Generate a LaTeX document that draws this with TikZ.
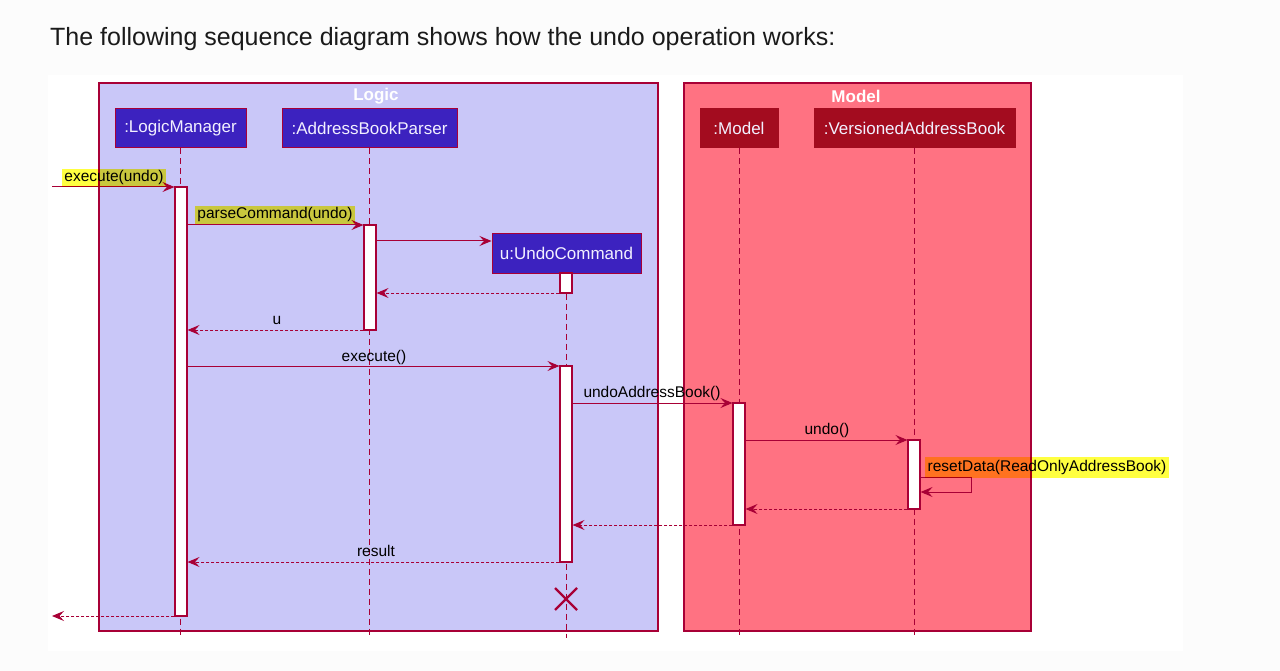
\documentclass[tikz,border=0pt]{standalone}
\usepackage{fontspec}
\setmainfont{Liberation Sans}
\usetikzlibrary{arrows.meta}
\definecolor{crim}{HTML}{A80036}
\definecolor{logicfill}{HTML}{C9C7F8}
\definecolor{modelfill}{HTML}{FF7282}
\definecolor{logicpart}{HTML}{3C22BF}
\definecolor{modelpart}{HTML}{A30C1F}
\definecolor{hlyellow}{HTML}{FFFF40}
\definecolor{pagebg}{HTML}{FCFCFC}
\definecolor{headtext}{HTML}{1A1A1A}
\definecolor{parttext}{HTML}{F2F0FF}
\begin{document}
\begin{tikzpicture}[x=1pt,y=-1pt,
  grp/.style={draw=crim, line width=1.2pt},
  grptitle/.style={font=\bfseries\fontsize{17}{20}\selectfont, text=white, inner sep=0pt},
  part/.style={draw=crim, line width=1pt, minimum height=39pt, inner sep=0pt,
    text=parttext, font=\fontsize{17}{20}\selectfont},
  lpart/.style={part, fill=logicpart},
  mpart/.style={part, fill=modelpart, draw=modelpart},
  life/.style={draw=crim, line width=1pt, dash pattern=on 6pt off 4pt},
  actbar/.style={draw=crim, fill=white, line width=1.1pt, minimum width=12pt, inner sep=0pt},
  msg/.style={draw=crim, line width=1pt, -{Stealth[length=12pt,width=10pt,inset=4.5pt]}},
  ret/.style={msg, dash pattern=on 3pt off 2pt},
  lbl/.style={font=\fontsize{15.5}{18}\selectfont, anchor=base, inner sep=0pt, text=black},
  hl/.style={lbl, fill=hlyellow, text height=11.5pt, text depth=4pt, inner xsep=2.5pt, inner ysep=1.5pt},
]
\useasboundingbox (0,0) rectangle (1280,671);
\fill[pagebg] (0,0) rectangle (1280,671);
\fill[white] (48,75) rectangle (1183,651);

% heading
\node[anchor=base west, inner sep=0pt, text=headtext, font=\fontsize{25}{30}\selectfont] (head) at (50,46)
  {The following sequence diagram shows how the undo operation works:};

% groups
\draw[grp, fill=logicfill] (99,83) rectangle (658,631);
\draw[grp, fill=modelfill] (684,83) rectangle (1031,631);
\node[grptitle] (logict) at (376,96.5) {Logic};
\node[grptitle] (modelt) at (856,96.5) {Model};

% participants
\node[lpart, minimum width=131pt] (lm) at (180.5,128.5) {:LogicManager};
\node[lpart, minimum width=175pt] (ap) at (369.5,128.5) {:AddressBookParser};
\node[lpart, minimum width=149pt] (uc) at (566.5,253.5) {u:UndoCommand};
\node[mpart, minimum width=78pt] (mo) at (739,128.5) {:Model};
\node[mpart, minimum width=201pt] (vab) at (914.5,128.5) {:VersionedAddressBook};

% lifelines
\draw[life] (lm.south) -- (lm.south |- 0,638);
\draw[life] (ap.south) -- (ap.south |- 0,638);
\draw[life] (uc.south) -- (uc.south |- 0,638);
\draw[life] (mo.south) -- (mo.south |- 0,638);
\draw[life] (vab.south) -- (vab.south |- 0,638);

% activation bars
\node[actbar, minimum height=429pt] (aLM) at (181,401.5) {};
\node[actbar, minimum height=105pt] (aAP) at (370,277.5) {};
\node[actbar, minimum height=20pt] (aU1) at (566,283) {};
\node[actbar, minimum height=196pt] (aU2) at (566,464) {};
\node[actbar, minimum height=122pt] (aM) at (739,464) {};
\node[actbar, minimum height=69pt] (aV) at (914,474.5) {};

% free ends
\coordinate (in) at (52,187);
\coordinate (out) at (52,616);

% messages
\draw[msg] (in) -- (aLM.west |- 0,187);
\draw[msg] (aLM.east |- 0,225) -- (aAP.west |- 0,225);
\draw[msg] (aAP.east |- 0,241) -- (uc.west |- 0,241);
\draw[ret] (aU1.west |- 0,293) -- (aAP.east |- 0,293);
\draw[ret] (aAP.west |- 0,330) -- (aLM.east |- 0,330);
\draw[msg] (aLM.east |- 0,366) -- (aU2.west |- 0,366);
\draw[msg] (aU2.east |- 0,403) -- (aM.west |- 0,403);
\draw[msg] (aM.east |- 0,440) -- (aV.west |- 0,440);
\draw[msg] (aV.east |- 0,477) -- (971,477) -- (971,492) -- (aV.east |- 0,492);
\draw[ret] (aV.west |- 0,509) -- (aM.east |- 0,509);
\draw[ret] (aM.west |- 0,525) -- (aU2.east |- 0,525);
\draw[ret] (aU2.west |- 0,562) -- (aLM.east |- 0,562);
\draw[ret] (aLM.west |- 0,616) -- (out);

% highlighted labels (multiply)
\begin{scope}[blend mode=multiply]
\node[hl] (l1) at (114,182) {execute(undo)};
\node[hl] (l2) at (275,219) {parseCommand(undo)};
\node[hl, anchor=base west, inner ysep=2.5pt] (l9) at (925,471) {resetData(ReadOnlyAddressBook)};
\end{scope}

% plain labels
\node[lbl] (l5) at (277,324) {u};
\node[lbl] (l6) at (374,361) {execute()};
\node[lbl] (l7) at (652,397) {undoAddressBook()};
\node[lbl] (l8) at (827,434) {undo()};
\node[lbl] (l12) at (376,556) {result};

% destroy
\coordinate (x0) at (566,599);
\draw[crim, line width=2.2pt] (x0) ++(-11,-11) -- ++(22,22);
\draw[crim, line width=2.2pt] (x0) ++(11,-11) -- ++(-22,22);
\end{tikzpicture}
\end{document}
